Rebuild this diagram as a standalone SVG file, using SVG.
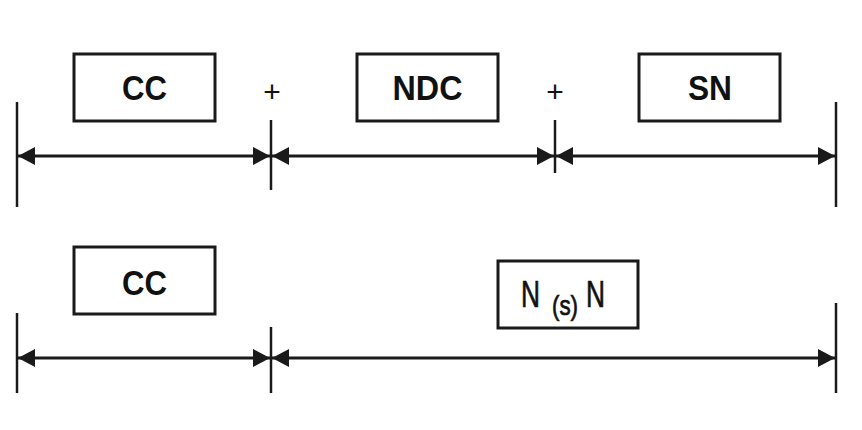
<svg xmlns="http://www.w3.org/2000/svg" width="862" height="430" viewBox="0 0 862 430">
<style>
.box{fill:#fff;stroke:#1a1a1a;stroke-width:3}
.lbl{font-family:"Liberation Sans",Arial,sans-serif;font-weight:bold;font-size:35px;fill:#111;text-anchor:middle}
.reg{font-family:"Liberation Sans",Arial,sans-serif;fill:#111}
.thk{stroke:#111;stroke-width:0.7}
.dim{stroke:#1a1a1a;stroke-width:3;fill:none}
.ext{stroke:#1a1a1a;stroke-width:2.5}
</style>
<defs>
<marker id="ah" viewBox="0 0 17 18" refX="17" refY="9" markerWidth="17" markerHeight="18" markerUnits="userSpaceOnUse" orient="auto-start-reverse">
<path d="M0,0 L17,9 L0,18 z" fill="#1a1a1a"/>
</marker>
</defs>
<rect width="862" height="430" fill="#fff"/>
<g id="node-cc-top">
<rect class="box" x="74" y="54" width="141" height="67"/>
<text class="lbl" x="144.5" y="100" textLength="45" lengthAdjust="spacingAndGlyphs">CC</text>
</g>
<g id="node-ndc">
<rect class="box" x="357" y="54" width="141" height="67"/>
<text class="lbl" x="427.5" y="100" textLength="70" lengthAdjust="spacingAndGlyphs">NDC</text>
</g>
<g id="node-sn">
<rect class="box" x="639" y="54" width="141" height="67"/>
<text class="lbl" x="710" y="100" textLength="44" lengthAdjust="spacingAndGlyphs">SN</text>
</g>
<g id="plus-1"><text class="reg" x="272" y="102" font-size="30" text-anchor="middle">+</text></g>
<g id="plus-2"><text class="reg" x="555" y="102" font-size="30" text-anchor="middle">+</text></g>
<g id="node-cc-bottom">
<rect class="box" x="74" y="247" width="141" height="67"/>
<text class="lbl" x="144.5" y="295" textLength="45" lengthAdjust="spacingAndGlyphs">CC</text>
</g>
<g id="node-nsn">
<rect class="box" x="498" y="261" width="140" height="67"/>
<text class="reg thk" x="521" y="307" font-size="37" textLength="19" lengthAdjust="spacingAndGlyphs">N</text>
<text class="reg thk" x="552" y="315" font-size="27" textLength="26" lengthAdjust="spacingAndGlyphs">(s)</text>
<text class="reg thk" x="586" y="307" font-size="37" textLength="19" lengthAdjust="spacingAndGlyphs">N</text>
</g>
<g id="connectors">
<line class="ext" x1="17" y1="102" x2="17" y2="207"/>
<line class="ext" x1="271" y1="120" x2="271" y2="190"/>
<line class="ext" x1="555" y1="120" x2="555" y2="173"/>
<line class="ext" x1="836" y1="102" x2="836" y2="207"/>
<line class="dim" x1="18" y1="156" x2="270" y2="156" marker-start="url(#ah)" marker-end="url(#ah)"/>
<line class="dim" x1="272" y1="156" x2="554" y2="156" marker-start="url(#ah)" marker-end="url(#ah)"/>
<line class="dim" x1="556" y1="156" x2="835" y2="156" marker-start="url(#ah)" marker-end="url(#ah)"/>
<line class="ext" x1="17" y1="313" x2="17" y2="393"/>
<line class="ext" x1="271" y1="327" x2="271" y2="393"/>
<line class="ext" x1="836" y1="303" x2="836" y2="393"/>
<line class="dim" x1="18" y1="358" x2="270" y2="358" marker-start="url(#ah)" marker-end="url(#ah)"/>
<line class="dim" x1="272" y1="358" x2="835" y2="358" marker-start="url(#ah)" marker-end="url(#ah)"/>
</g>
</svg>
